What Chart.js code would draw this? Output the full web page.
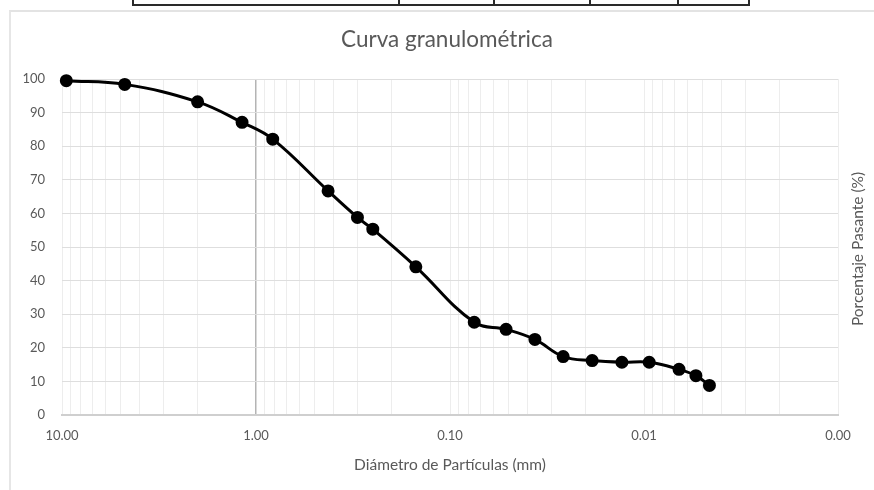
<!DOCTYPE html>
<html>
<head>
<meta charset="utf-8">
<script src="https://cdn.jsdelivr.net/npm/chart.js@4.4.1/dist/chart.umd.min.js"></script>
<style>
  html, body { margin: 0; padding: 0; background: #fff; }
  #wrap { position: relative; width: 874px; height: 490px; overflow: hidden; }
  #frame { position: absolute; left: 9px; top: 10px; width: 900px; height: 520px;
           border-left: 2px solid #e6e6e6; border-top: 2px solid #e3e3e3; box-sizing: border-box; }
  .tline { position: absolute; background: #2a2a2a; }
  canvas { position: absolute; left: 0; top: 0; }
</style>
</head>
<body>
<div id="wrap">
  <!-- lower edge of the data table above the chart -->
  <div class="tline" style="left:132px; top:4px; width:618px; height:2px;"></div>
  <div class="tline" style="left:132px; top:0; width:2px; height:6px;"></div>
  <div class="tline" style="left:398px; top:0; width:2px; height:6px;"></div>
  <div class="tline" style="left:493px; top:0; width:2px; height:6px;"></div>
  <div class="tline" style="left:589px; top:0; width:2px; height:6px;"></div>
  <div class="tline" style="left:677px; top:0; width:2px; height:6px;"></div>
  <div class="tline" style="left:748px; top:0; width:2px; height:6px;"></div>
  <div id="frame"></div>
  <canvas id="c" width="874" height="490"></canvas>
</div>
<script>
// Particle diameters (mm) and percent passing
const diametros = [9.5, 4.75, 2.0, 1.18, 0.82, 0.425, 0.30, 0.25, 0.15, 0.075,
                   0.0514, 0.0365, 0.0261, 0.0185, 0.0130, 0.0094, 0.0066, 0.0054, 0.0046];
const pasante = [99.5, 98.4, 93.2, 87.1, 82.1, 66.7, 58.8, 55.3, 44.1, 27.6,
                 25.5, 22.5, 17.4, 16.2, 15.7, 15.7, 13.6, 11.7, 8.8];

// Labelled decades on the diameter axis
const decadas = [10, 1, 0.1, 0.01, 0.001];
const etiquetasDecadas = ['10.00', '1.00', '0.10', '0.01', '0.00'];

const titulo = 'Curva granulométrica';
const tituloX = 'Diámetro de Partículas (mm)';
const tituloY = 'Porcentaje Pasante (%)';

const FONT = 'Lato, "Open Sans", sans-serif';
const GRIS = '#595959';

// log grid: 1..9 x 10^e for every decade shown
function ticksLog() {
  const t = [];
  for (let e = -3; e <= 0; e++) {
    for (let s = 1; s <= 9; s++) t.push(+(s * Math.pow(10, e)).toPrecision(3));
  }
  t.push(10);
  return t;
}

const textos = {
  id: 'textos',
  afterDraw(chart) {
    const ctx = chart.ctx;
    ctx.save();
    ctx.fillStyle = GRIS;
    ctx.textAlign = 'center';
    ctx.textBaseline = 'middle';
    ctx.font = '22.5px ' + FONT;
    ctx.fillText(titulo, 447, 40);
    ctx.translate(858, 249);
    ctx.rotate(-Math.PI / 2);
    ctx.font = '15.5px ' + FONT;
    ctx.fillText(tituloY, 0, 0);
    ctx.restore();
  }
};

new Chart(document.getElementById('c'), {
  type: 'line',
  data: {
    datasets: [{
      data: diametros.map((d, i) => ({ x: d, y: pasante[i] })),
      borderColor: '#000',
      backgroundColor: '#000',
      borderWidth: 3,
      pointRadius: 5,
      pointHoverRadius: 5,
      tension: 0.4,
      fill: false,
      clip: false
    }]
  },
  options: {
    responsive: false,
    animation: false,
    layout: { padding: { left: 10, right: 36, top: 79, bottom: 0 } },
    plugins: { legend: { display: false }, title: { display: false }, tooltip: { enabled: false } },
    scales: {
      x: {
        type: 'logarithmic',
        reverse: true,
        min: 0.001,
        max: 10,
        afterBuildTicks(scale) { scale.ticks = ticksLog().map(v => ({ value: v })); },
        afterFit(scale) { scale.height = 75; },
        ticks: {
          autoSkip: false,
          maxRotation: 0,
          padding: 13,
          color: GRIS,
          font: { family: FONT, size: 13 },
          callback(v) {
            const i = decadas.findIndex(d => Math.abs(d - v) < 1e-9);
            return i >= 0 ? etiquetasDecadas[i] : '';
          }
        },
        grid: {
          drawTicks: false,
          lineWidth: ctx => (ctx.tick && Math.abs(ctx.tick.value - 1) < 1e-9) ? 1.5 : 1,
          color: ctx => (ctx.tick && Math.abs(ctx.tick.value - 1) < 1e-9) ? '#b4b4b4' : '#ededed'
        },
        border: { display: true, color: '#cfcfcf', width: 2 },
        title: {
          display: true,
          text: tituloX,
          color: GRIS,
          font: { family: FONT, size: 15.5 },
          padding: { top: 4, bottom: 16 }
        }
      },
      y: {
        min: 0,
        max: 100,
        afterFit(scale) { scale.width = 52; },
        ticks: {
          stepSize: 10,
          padding: 17,
          color: GRIS,
          font: { family: FONT, size: 13 }
        },
        grid: { drawTicks: false, color: '#dedede', lineWidth: 1 },
        border: { display: false }
      }
    }
  },
  plugins: [textos]
});
</script>
</body>
</html>
